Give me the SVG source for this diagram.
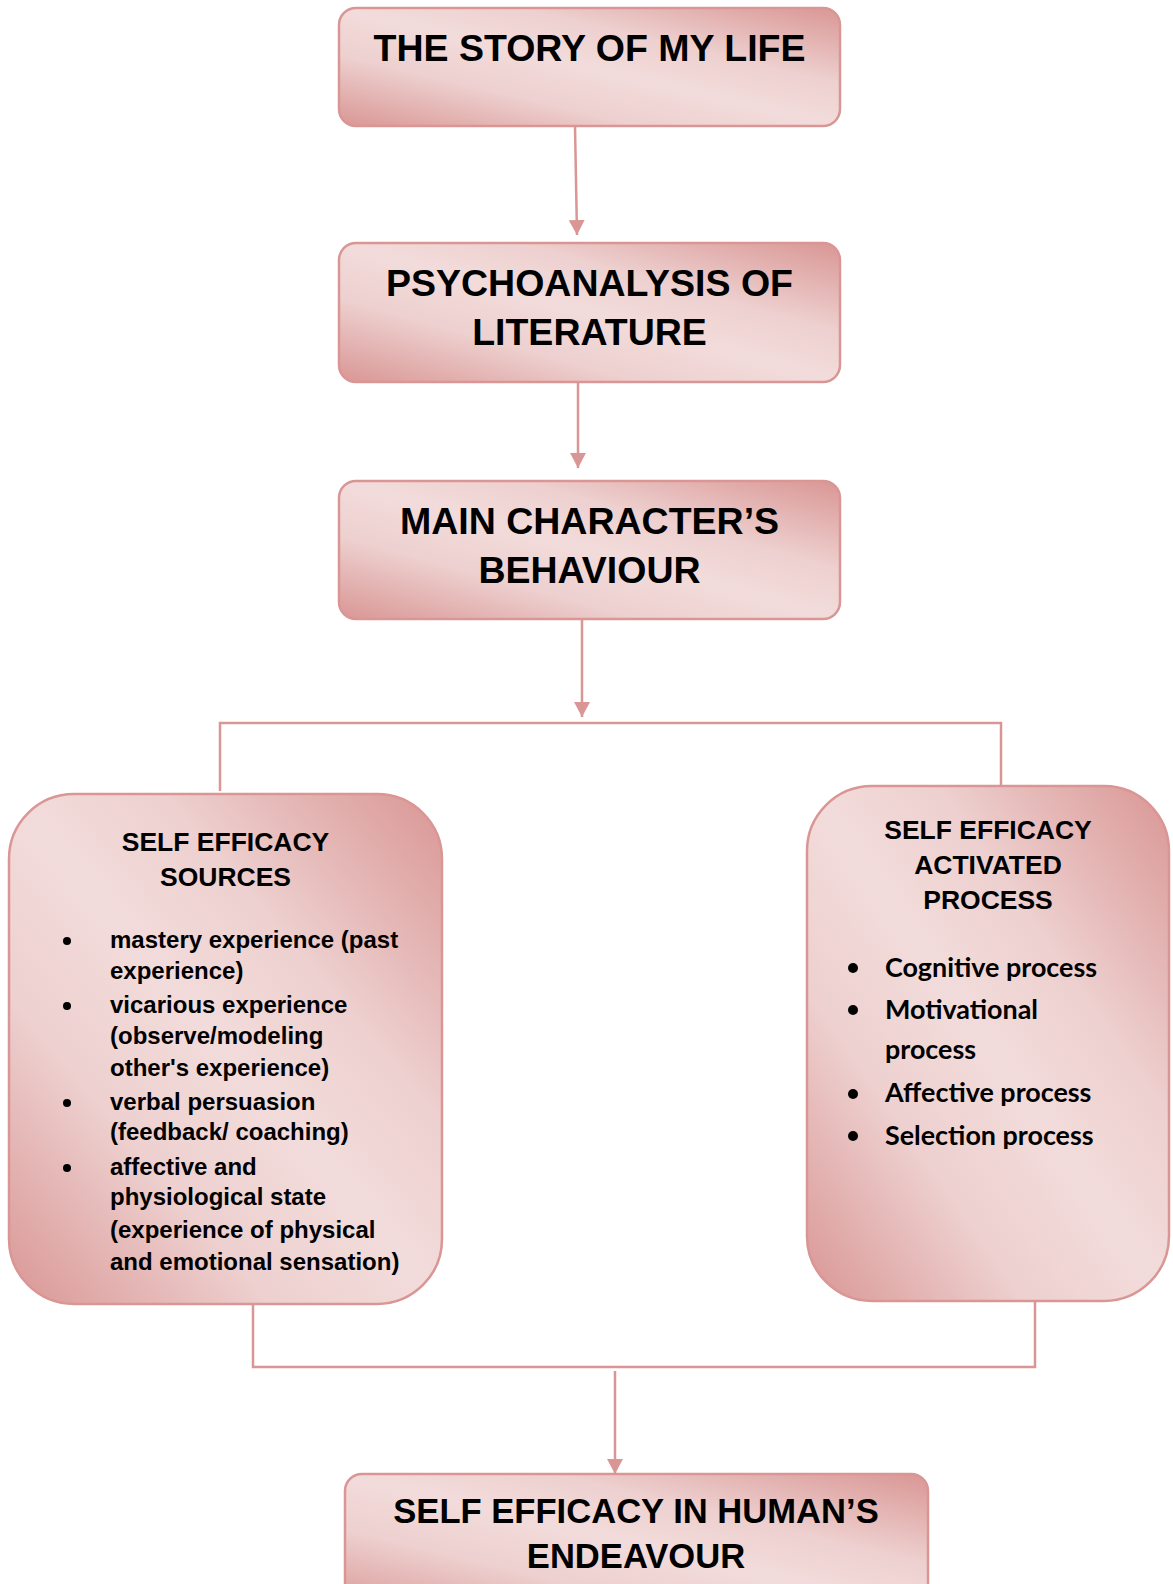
<svg xmlns="http://www.w3.org/2000/svg" width="1173" height="1584" viewBox="0 0 1173 1584">
  <defs>
    <linearGradient id="pinkFill" x1="0" y1="1" x2="1" y2="0">
      <stop offset="0" stop-color="#D99694"/>
      <stop offset="0.3" stop-color="#EDD0CF"/>
      <stop offset="0.5" stop-color="#F2DCDB"/>
      <stop offset="0.68" stop-color="#EDD0CF"/>
      <stop offset="1" stop-color="#D99694"/>
    </linearGradient>
    <marker id="arrowHead" viewBox="0 0 15 16" refX="15" refY="8" markerWidth="15" markerHeight="16" markerUnits="userSpaceOnUse" orient="auto">
      <path d="M0,0 L15,8 L0,16 z" fill="#D99694"/>
    </marker>
  </defs>
  <style>
    .box { fill: url(#pinkFill); stroke: #D99694; stroke-width: 2.5; }
    .head { font-family: "Liberation Sans", Arial, sans-serif; font-weight: bold; fill: #000; text-anchor: middle; }
    .big { font-size: 37.5px; }
    .last { font-size: 34.6px; }
    .sub { font-size: 26.5px; }
    .item { font-family: "Liberation Sans", Arial, sans-serif; font-weight: bold; font-size: 24px; fill: #000; }
    .item2 { font-family: Lato, "Open Sans", sans-serif; font-weight: bold; font-size: 26.9px; fill: #000; }
    .dot { fill: #000; }
    .link { fill: none; stroke: #D99694; stroke-width: 2.5; }
  </style>

  <!-- connectors -->
  <g id="connectors">
    <line class="link" x1="575" y1="126" x2="577" y2="235" marker-end="url(#arrowHead)"/>
    <line class="link" x1="578" y1="382" x2="578" y2="468" marker-end="url(#arrowHead)"/>
    <line class="link" x1="582" y1="615" x2="582" y2="717" marker-end="url(#arrowHead)"/>
    <polyline class="link" points="220,791 220,723 1001,723 1001,786"/>
    <polyline class="link" points="253,1304 253,1367 1035,1367 1035,1301"/>
    <line class="link" x1="615" y1="1371" x2="615" y2="1474" marker-end="url(#arrowHead)"/>
  </g>

  <!-- top: the source novel -->
  <g id="story">
    <rect class="box" x="339" y="8" width="501" height="118" rx="17"/>
    <text class="head big" x="589.5" y="61">THE STORY OF MY LIFE</text>
  </g>

  <g id="psychoanalysis">
    <rect class="box" x="339" y="243" width="501" height="139" rx="17"/>
    <text class="head big" x="589.5" y="296">PSYCHOANALYSIS OF</text>
    <text class="head big" x="589.5" y="345">LITERATURE</text>
  </g>

  <g id="behaviour">
    <rect class="box" x="339" y="481" width="501" height="138" rx="17"/>
    <text class="head big" x="589.5" y="534">MAIN CHARACTER’S</text>
    <text class="head big" x="589.5" y="583">BEHAVIOUR</text>
  </g>

  <!-- left branch: sources -->
  <g id="sources">
    <rect class="box" x="9" y="794" width="433" height="510" rx="65"/>
    <text class="head sub" x="225.5" y="851">SELF EFFICACY</text>
    <text class="head sub" x="225.5" y="886">SOURCES</text>
    <circle class="dot" cx="67" cy="941" r="4"/>
    <circle class="dot" cx="67" cy="1006" r="4"/>
    <circle class="dot" cx="67" cy="1103" r="4"/>
    <circle class="dot" cx="67" cy="1168" r="4"/>
    <text class="item" x="110" y="948">mastery experience (past</text>
    <text class="item" x="110" y="979">experience)</text>
    <text class="item" x="110" y="1013">vicarious experience</text>
    <text class="item" x="110" y="1044">(observe/modeling</text>
    <text class="item" x="110" y="1076">other's experience)</text>
    <text class="item" x="110" y="1110">verbal persuasion</text>
    <text class="item" x="110" y="1140">(feedback/ coaching)</text>
    <text class="item" x="110" y="1175">affective and</text>
    <text class="item" x="110" y="1205">physiological state</text>
    <text class="item" x="110" y="1238">(experience of physical</text>
    <text class="item" x="110" y="1270">and emotional sensation)</text>
  </g>

  <!-- right branch: processes -->
  <g id="processes">
    <rect class="box" x="807" y="786" width="362" height="515" rx="65"/>
    <text class="head sub" x="988" y="839">SELF EFFICACY</text>
    <text class="head sub" x="988" y="874">ACTIVATED</text>
    <text class="head sub" x="988" y="909">PROCESS</text>
    <circle class="dot" cx="853" cy="968" r="5"/>
    <circle class="dot" cx="853" cy="1010" r="5"/>
    <circle class="dot" cx="853" cy="1094" r="5"/>
    <circle class="dot" cx="853" cy="1136" r="5"/>
    <text class="item2" x="885" y="977">Cognitive process</text>
    <text class="item2" x="885" y="1019">Motivational</text>
    <text class="item2" x="885" y="1059">process</text>
    <text class="item2" x="885" y="1102">Affective process</text>
    <text class="item2" x="885" y="1145">Selection process</text>
  </g>

  <!-- bottom: outcome -->
  <g id="endeavour">
    <rect class="box" x="345" y="1474" width="583" height="140" rx="17"/>
    <text class="head last" x="636" y="1523">SELF EFFICACY IN HUMAN’S</text>
    <text class="head last" x="636" y="1568">ENDEAVOUR</text>
  </g>
</svg>
